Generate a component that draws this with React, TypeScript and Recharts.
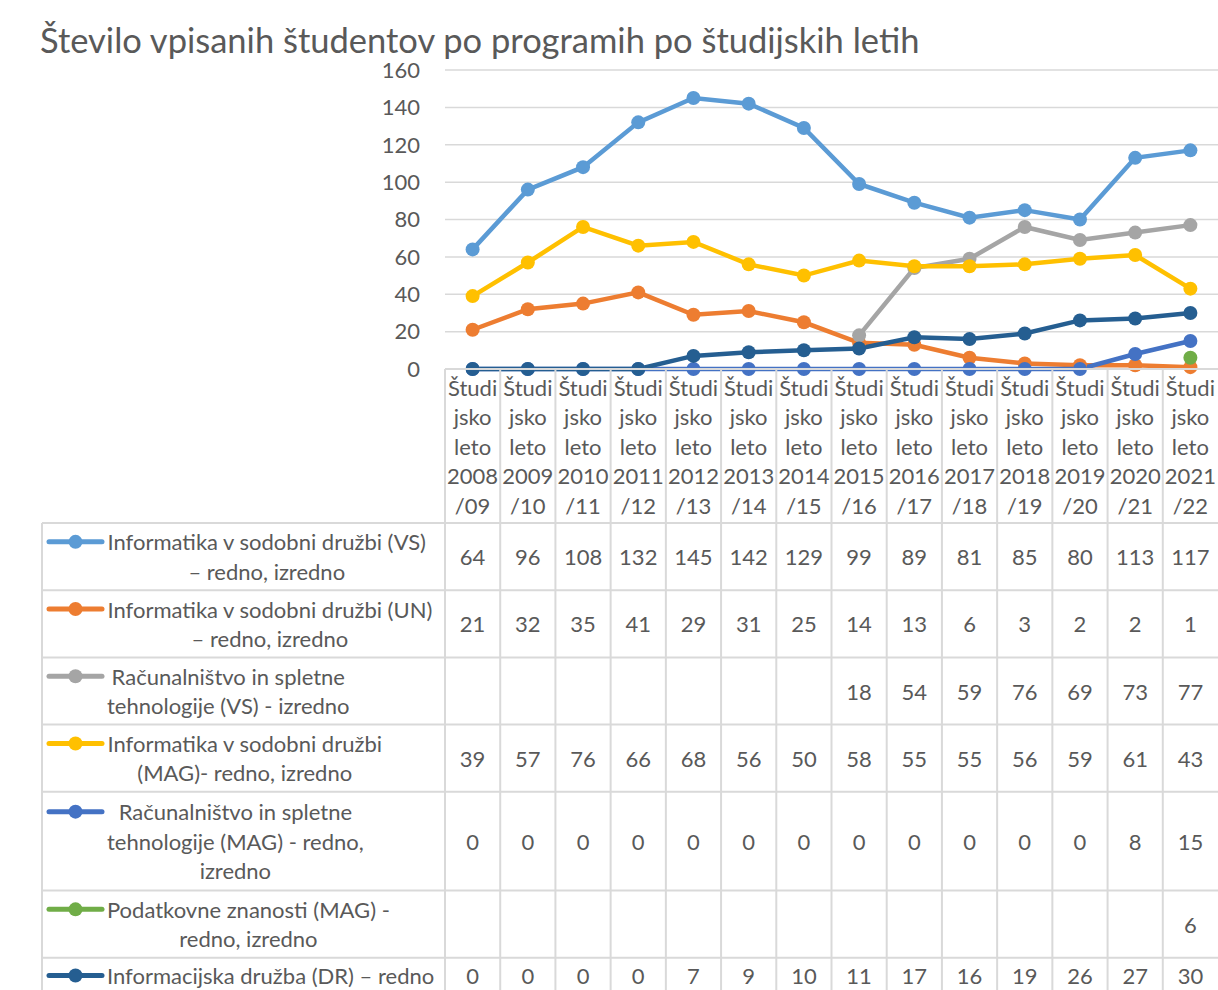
import React from "react";
import { LineChart, Line, XAxis, YAxis, CartesianGrid } from "recharts";

const categories = [
  "Študijsko leto 2008/09",
  "Študijsko leto 2009/10",
  "Študijsko leto 2010/11",
  "Študijsko leto 2011/12",
  "Študijsko leto 2012/13",
  "Študijsko leto 2013/14",
  "Študijsko leto 2014/15",
  "Študijsko leto 2015/16",
  "Študijsko leto 2016/17",
  "Študijsko leto 2017/18",
  "Študijsko leto 2018/19",
  "Študijsko leto 2019/20",
  "Študijsko leto 2020/21",
  "Študijsko leto 2021/22",
];

const isdVs = [64, 96, 108, 132, 145, 142, 129, 99, 89, 81, 85, 80, 113, 117];
const isdUn = [21, 32, 35, 41, 29, 31, 25, 14, 13, 6, 3, 2, 2, 1];
const ristVs = [null, null, null, null, null, null, null, 18, 54, 59, 76, 69, 73, 77];
const isdMag = [39, 57, 76, 66, 68, 56, 50, 58, 55, 55, 56, 59, 61, 43];
const ristMag = [0, 0, 0, 0, 0, 0, 0, 0, 0, 0, 0, 0, 8, 15];
const pzMag = [null, null, null, null, null, null, null, null, null, null, null, null, null, 6];
const idDr = [0, 0, 0, 0, 7, 9, 10, 11, 17, 16, 19, 26, 27, 30];

const yTicks = [0, 20, 40, 60, 80, 100, 120, 140, 160];

const series = [
  { key: "isdVs", name: "Informatika v sodobni družbi (VS)\n– redno, izredno", color: "#5B9BD5", values: isdVs },
  { key: "isdUn", name: "Informatika v sodobni družbi (UN)\n– redno, izredno", color: "#ED7D31", values: isdUn },
  { key: "ristVs", name: "Računalništvo in spletne\ntehnologije (VS) - izredno", color: "#A5A5A5", values: ristVs },
  { key: "isdMag", name: "Informatika v sodobni družbi\n(MAG)- redno, izredno", color: "#FFC000", values: isdMag },
  { key: "ristMag", name: "Računalništvo in spletne\ntehnologije (MAG) - redno,\nizredno", color: "#4472C4", values: ristMag },
  { key: "pzMag", name: "Podatkovne znanosti (MAG) -\nredno, izredno", color: "#70AD47", values: pzMag },
  { key: "idDr", name: "Informacijska družba (DR) – redno", color: "#255E91", values: idDr },
];

const data = categories.map((category, i) => {
  const row: Record<string, any> = { category };
  series.forEach((s) => (row[s.key] = s.values[i]));
  return row;
});

// layout
const W = 1218;
const H = 990;
const PLOT_LEFT = 445;
const PLOT_TOP = 70;
const PLOT_BOTTOM = 369;
const TABLE_LEFT = 42;
const COL_W = (W - PLOT_LEFT) / categories.length;
const LINE_H = 29.5;
const HEADER_H = 154;
const FONT = "Lato, 'Liberation Sans', sans-serif";
const FS = 22;
const TEXT = "#595959";
const GRID = "#d9d9d9";

const rowHeight = (lines: number) => lines * 31.5 + 4.2;
const rowTops: number[] = [];
{
  let t = PLOT_BOTTOM + HEADER_H;
  series.forEach((s) => {
    rowTops.push(t);
    t += rowHeight(s.name.split("\n").length);
  });
  rowTops.push(t);
}

let ctx: CanvasRenderingContext2D | null = null;
const measure = (t: string) => {
  if (!ctx) ctx = document.createElement("canvas").getContext("2d");
  if (!ctx) return t.length * 11;
  ctx.font = `${FS}px Lato`;
  return ctx.measureText(t).width;
};

const splitLabel = (label: string) => {
  const out: string[] = [];
  label
    .replace("/", " /")
    .split(" ")
    .forEach((w) => {
      if (w.length > 5 && !w.startsWith("/")) {
        for (let i = 0; i < w.length; i += 5) out.push(w.slice(i, i + 5));
      } else out.push(w);
    });
  return out;
};

const LegendColumn = () => (
  <g>
    <line x1={TABLE_LEFT} x2={TABLE_LEFT} y1={rowTops[0]} y2={H} stroke={GRID} strokeWidth={2} />
    {rowTops.map((t, i) => (
      <line key={"h" + i} x1={TABLE_LEFT} x2={W} y1={t} y2={t} stroke={GRID} strokeWidth={2} />
    ))}
    {series.map((s, i) => {
      const lines = s.name.split("\n");
      const cy = rowTops[i] + (rowTops[i + 1] - rowTops[i]) / 2;
      const y0 = cy - ((lines.length - 1) / 2) * LINE_H;
      const maxW = Math.max(...lines.map(measure));
      const cx = 107 + maxW / 2;
      return (
        <g key={s.key}>
          <line x1={49} x2={102} y1={y0} y2={y0} stroke={s.color} strokeWidth={5} strokeLinecap="round" />
          <circle cx={75.5} cy={y0} r={7} fill={s.color} />
          {lines.map((l, j) => (
            <text key={j} x={cx} y={y0 + j * LINE_H} textAnchor="middle" dominantBaseline="central" fontFamily={FONT} fontSize={FS} fill={TEXT}>
              {l}
            </text>
          ))}
        </g>
      );
    })}
  </g>
);

const TableColumn = (props: any) => {
  const { x, y, payload, index } = props;
  const ci = categories.indexOf(payload.value);
  const lines = splitLabel(payload.value);
  const hy = y + HEADER_H / 2 - ((lines.length - 1) / 2) * LINE_H;
  return (
    <g>
      {index === 0 && <LegendColumn />}
      {index === 0 && <line x1={x - COL_W / 2} x2={W} y1={y} y2={y} stroke={GRID} strokeWidth={2} />}
      <line x1={x - COL_W / 2} x2={x - COL_W / 2} y1={y} y2={H} stroke={GRID} strokeWidth={2} />
      {lines.map((l, j) => (
        <text key={j} x={x} y={hy + j * LINE_H} textAnchor="middle" dominantBaseline="central" fontFamily={FONT} fontSize={FS} fill={TEXT}>
          {l}
        </text>
      ))}
      {series.map((s, i) => {
        const v = s.values[ci];
        if (v === null || v === undefined) return null;
        const cy = rowTops[i] + (rowTops[i + 1] - rowTops[i]) / 2;
        return (
          <text key={s.key} x={x} y={cy} textAnchor="middle" dominantBaseline="central" fontFamily={FONT} fontSize={FS} fill={TEXT}>
            {v}
          </text>
        );
      })}
    </g>
  );
};

export default function App() {
  return (
    <div style={{ position: "absolute", left: 0, top: 0, width: W, height: H, background: "#fff" }}>
      <svg width={W} height={64} style={{ position: "absolute", left: 0, top: 0 }}>
        <text x={40} y={53} fontFamily={FONT} fontSize={34.5} fill={TEXT}>
          Število vpisanih študentov po programih po študijskih letih
        </text>
      </svg>
      <LineChart width={W} height={H} data={data} margin={{ top: PLOT_TOP, right: 0, bottom: 21, left: PLOT_LEFT - 60 }}>
        <CartesianGrid vertical={false} stroke={GRID} strokeWidth={1.5} />
        <XAxis
          dataKey="category"
          height={H - 21 - PLOT_BOTTOM}
          axisLine={false}
          tickLine={false}
          tickSize={0}
          tickMargin={0}
          interval={0}
          padding={{ left: COL_W / 2, right: COL_W / 2 }}
          tick={<TableColumn />}
        />
        <YAxis
          width={60}
          domain={[0, 160]}
          ticks={yTicks}
          axisLine={false}
          tickLine={false}
          tickSize={0}
          tickMargin={25}
          tick={{ fill: TEXT, fontSize: FS, fontFamily: FONT }}
        />
        {series.map((s) => (
          <Line
            key={s.key}
            type="linear"
            dataKey={s.key}
            name={s.name}
            stroke={s.color}
            strokeWidth={4.5}
            dot={{ r: 7, fill: s.color, stroke: s.color, strokeWidth: 0 }}
            activeDot={false}
            connectNulls={false}
            isAnimationActive={false}
          />
        ))}
      </LineChart>
    </div>
  );
}
